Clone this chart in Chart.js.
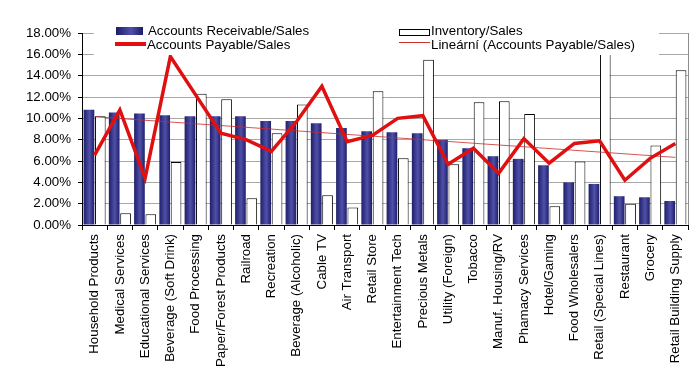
<!DOCTYPE html>
<html>
<head>
<meta charset="utf-8">
<script src="https://cdn.jsdelivr.net/npm/chart.js@4.4.1/dist/chart.umd.min.js"></script>
<style>
  body { margin: 0; background: #fff; }
  #wrap { width: 696px; height: 386px; }
</style>
</head>
<body>
<div id="wrap"><canvas id="ratioChart" width="696" height="386"></canvas></div>
<script>
// categories and values (percent)
const categories = [
    "Household Products", "Medical Services", "Educational Services", "Beverage (Soft Drink)",
    "Food Processing", "Paper/Forest Products", "Railroad", "Recreation",
    "Beverage (Alcoholic)", "Cable TV", "Air Transport", "Retail Store",
    "Entertainment Tech", "Precious Metals", "Utility (Foreign)", "Tobacco",
    "Manuf. Housing/RV", "Phamacy Services", "Hotel/Gaming", "Food Wholesalers",
    "Retail (Special Lines)", "Restaurant", "Grocery", "Retail Building Supply"
];
const receivableSales = [10.8, 10.55, 10.45, 10.3, 10.2, 10.2, 10.2, 9.75, 9.75, 9.55, 9.1, 8.8,
    8.7, 8.6, 8.0, 7.2, 6.45, 6.2, 5.6, 4.0, 3.85, 2.7, 2.6, 2.25];
const inventorySales = [10.2, 1.1, 1.0, 5.9, 12.3, 11.8, 2.5, 8.6, 11.3, 2.8, 1.65, 12.55,
    6.25, 15.5, 5.7, 11.5, 11.6, 10.4, 1.75, 5.95, 19.5, 2.0, 7.45, 14.5];
const payableSales = [6.55, 10.8, 4.4, 15.8, 12.2, 8.6, 8.0, 6.9, 9.7, 13.0, 7.8, 8.4,
    10.0, 10.25, 5.7, 7.2, 4.85, 8.1, 5.8, 7.65, 7.9, 4.2, 6.25, 7.65];
// linear trend of payables: only the two end points
const payableTrend = [10.15, null, null, null, null, null, null, null, null, null, null, null,
    null, null, null, null, null, null, null, null, null, null, null, 6.34];
const yTicks = [0, 2, 4, 6, 8, 10, 12, 14, 16, 18];

const FONT = "'Liberation Sans', Arial, sans-serif";
const FONT_SIZE = 13.3;
const CAT_PCT = 0.9;

function navyGradient(ctx, left, right) {
    const g = ctx.createLinearGradient(left, 0, right, 0);
    g.addColorStop(0, "#1c1c66");
    g.addColorStop(0.55, "#5050aa");
    g.addColorStop(1, "#1c1c66");
    return g;
}

function barFill(c) {
    const xs = c.chart.scales.x;
    if (!xs || c.type !== "data" || !(xs.width > 0)) return "#2d2d85";
    const center = xs.getPixelForValue(c.dataIndex);
    if (!isFinite(center)) return "#2d2d85";
    const groupW = (xs.width / categories.length) * CAT_PCT;
    return navyGradient(c.chart.ctx, center - groupW / 2, center);
}

// right border of the plot area
const frameRight = {
    id: "frameRight",
    beforeDatasetsDraw(chart) {
        const { ctx, chartArea } = chart;
        ctx.save();
        ctx.strokeStyle = "#8c8c8c";
        ctx.lineWidth = 1;
        ctx.beginPath();
        ctx.moveTo(Math.round(chartArea.right) + 0.5, chartArea.top);
        ctx.lineTo(Math.round(chartArea.right) + 0.5, chartArea.bottom);
        ctx.stroke();
        ctx.restore();
    }
};

// two column legend laid over the top of the plot, white box behind it
const boxLegend = {
    id: "boxLegend",
    afterDraw(chart) {
        const ctx = chart.ctx;
        ctx.save();
        ctx.fillStyle = "#fff";
        ctx.fillRect(94, 22, 565, 33);

        ctx.font = FONT_SIZE + "px " + FONT;
        ctx.textBaseline = "alphabetic";

        // Accounts Receivable/Sales
        ctx.fillStyle = navyGradient(ctx, 116, 143);
        ctx.fillRect(116, 27, 27, 8);
        ctx.fillStyle = "#000";
        ctx.fillText("Accounts Receivable/Sales", 148, 35);

        // Accounts Payable/Sales
        ctx.strokeStyle = "#e01010";
        ctx.lineWidth = 4;
        ctx.beginPath();
        ctx.moveTo(115, 44);
        ctx.lineTo(146, 44);
        ctx.stroke();
        ctx.fillText("Accounts Payable/Sales", 147, 48.5);

        // Inventory/Sales
        ctx.strokeStyle = "#000";
        ctx.lineWidth = 1;
        ctx.strokeRect(399.5, 29.5, 30, 6);
        ctx.fillText("Inventory/Sales", 431, 35);

        // trend
        ctx.strokeStyle = "#c83030";
        ctx.lineWidth = 1;
        ctx.beginPath();
        ctx.moveTo(399, 42.5);
        ctx.lineTo(430, 42.5);
        ctx.stroke();
        ctx.fillText("Lineární (Accounts Payable/Sales)", 431, 48.5);
        ctx.restore();
    }
};

const ctx = document.getElementById("ratioChart").getContext("2d");
const ratioChart = new Chart(ctx, {
    data: {
        labels: categories,
        datasets: [
            {
                type: "line",
                label: "Accounts Payable/Sales",
                data: payableSales,
                borderColor: "#e01010",
                borderWidth: 3.5,
                pointRadius: 0,
                tension: 0,
                order: 0
            },
            {
                type: "line",
                label: "Lineární (Accounts Payable/Sales)",
                data: payableTrend,
                borderColor: "rgba(205, 40, 40, 0.8)",
                borderWidth: 1,
                pointRadius: 0,
                spanGaps: true,
                order: 1
            },
            {
                type: "bar",
                label: "Accounts Receivable/Sales",
                data: receivableSales,
                backgroundColor: barFill,
                borderWidth: 0,
                categoryPercentage: CAT_PCT,
                barPercentage: 0.94,
                order: 2
            },
            {
                type: "bar",
                label: "Inventory/Sales",
                data: inventorySales,
                backgroundColor: "#fff",
                borderColor: "#000",
                borderWidth: 1,
                categoryPercentage: CAT_PCT,
                barPercentage: 0.94,
                order: 2
            }
        ]
    },
    options: {
        responsive: false,
        animation: false,
        layout: { padding: { top: 33, right: 8, left: 0, bottom: 0 } },
        plugins: {
            legend: { display: false },
            tooltip: { enabled: false }
        },
        scales: {
            x: {
                afterFit: (s) => { s.height = 161; },
                grid: {
                    offset: true,
                    drawOnChartArea: false,
                    drawTicks: true,
                    tickLength: 5,
                    tickColor: "#000"
                },
                border: { color: "#000" },
                ticks: {
                    autoSkip: false,
                    minRotation: 90,
                    maxRotation: 90,
                    padding: 4,
                    color: "#000",
                    font: { family: FONT, size: FONT_SIZE }
                }
            },
            y: {
                min: 0,
                max: 18,
                afterFit: (s) => { s.width = 82; },
                afterBuildTicks: (s) => { s.ticks = yTicks.map(v => ({ value: v })); },
                grid: {
                    color: "#a8a8a8",
                    tickColor: "#000",
                    tickLength: 4
                },
                border: { color: "#000" },
                ticks: {
                    padding: 7,
                    color: "#000",
                    font: { family: FONT, size: FONT_SIZE },
                    callback: (v) => v.toFixed(2) + "%"
                }
            }
        }
    },
    plugins: [frameRight, boxLegend]
});
// second pass so the bar gradients see the laid-out scale
ratioChart.update();
</script>
</body>
</html>
